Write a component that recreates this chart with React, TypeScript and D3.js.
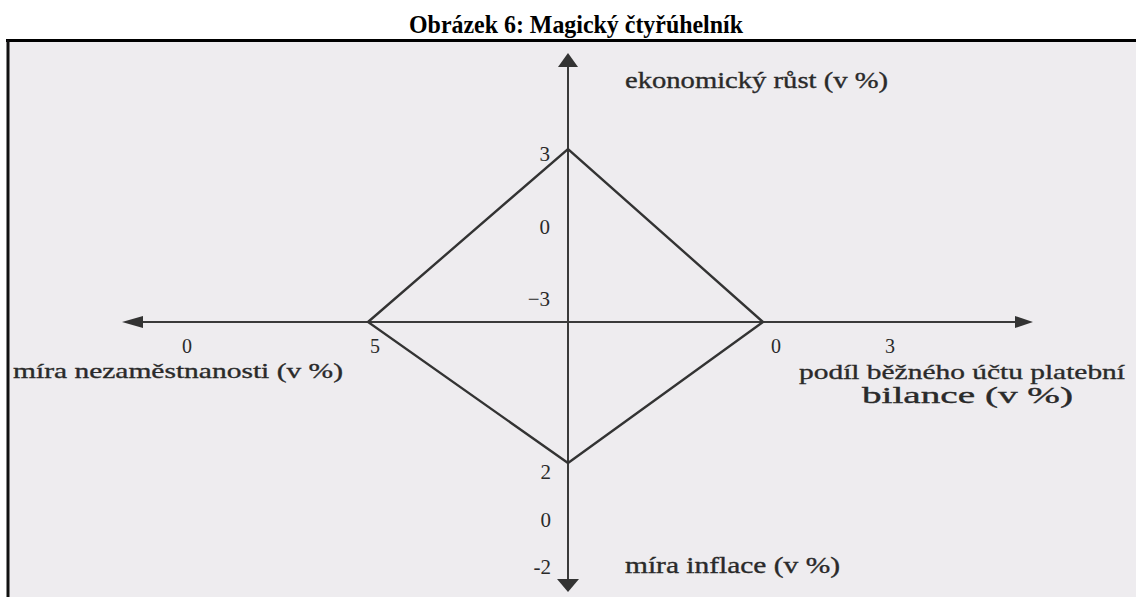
import React from "react";
import * as d3 from "d3";

// chart values
const growthTicks = [3, 0, -3];
const inflationTicks = [2, 0, -2];
const unemploymentTicks = [0, 5];
const balanceTicks = [0, 3];

// where the quadrilateral touches each axis
const growthValue = 3;
const unemploymentValue = 5;
const balanceValue = 0;
const inflationValue = 2;

const title = "Obrázek 6: Magický čtyřúhelník";
const growthTitle = "ekonomický růst (v %)";
const unemploymentTitle = "míra nezaměstnanosti (v %)";
const balanceTitle = ["podíl běžného účtu platební", "bilance (v %)"];
const inflationTitle = "míra inflace (v %)";

const W = 1136;
const H = 597;
const cx = 568;
const cy = 322;
const font = "'Liberation Serif', 'Times New Roman', serif";
const ink = "#2a2a2a";

const App = () => {
  // one scale per axis, each running outward from the centre
  const growthScale = d3.scaleLinear().domain([-3, 3]).range([294, 149]);
  const inflationScale = d3.scaleLinear().domain([-2, 2]).range([558, 463]);
  const unemploymentScale = d3.scaleLinear().domain([0, 5]).range([180, 368]);
  const balanceScale = d3.scaleLinear().domain([0, 3]).range([763, 877]);

  const quad: [number, number][] = [
    [unemploymentScale(unemploymentValue), cy],
    [cx, growthScale(growthValue)],
    [balanceScale(balanceValue), cy],
    [cx, inflationScale(inflationValue)],
  ];
  const quadPath = d3.line().curve(d3.curveLinearClosed)(quad) || "";

  const arrow = (pts: [number, number][]) =>
    d3.line().curve(d3.curveLinearClosed)(pts) || "";

  return (
    <svg
      width={W}
      height={H}
      style={{ position: "absolute", left: 0, top: 0, display: "block" }}
      fontFamily={font}
    >
      <rect x={0} y={0} width={W} height={H} fill="#ffffff" />
      <rect x={8} y={41} width={W - 8} height={H - 41} fill="#eeecef" />

      {/* frame */}
      <line x1={6} x2={W} y1={40.5} y2={40.5} stroke="#000" strokeWidth={3} />
      <line x1={8} x2={8} y1={40} y2={H} stroke="#111" strokeWidth={3} />

      {/* title */}
      <text
        x={409}
        y={33}
        fontSize={25}
        fontWeight="bold"
        fill="#000"
        textLength={334}
        lengthAdjust="spacingAndGlyphs"
      >
        {title}
      </text>

      {/* axes */}
      <line x1={cx} x2={cx} y1={62} y2={584} stroke="#3a3a3a" strokeWidth={2} />
      <line x1={136} x2={1022} y1={cy} y2={cy} stroke="#3a3a3a" strokeWidth={2} />
      <path d={arrow([[cx, 53], [cx - 10, 67], [cx + 10, 67]])} fill="#333" />
      <path d={arrow([[cx, 592], [cx - 11, 579], [cx + 11, 579]])} fill="#333" />
      <path d={arrow([[122, cy], [143, cy - 6], [143, cy + 6]])} fill="#333" />
      <path d={arrow([[1033, cy], [1015, cy - 6], [1015, cy + 6]])} fill="#333" />

      {/* quadrilateral */}
      <path d={quadPath} fill="none" stroke="#333" strokeWidth={2.4} strokeLinejoin="miter" />

      {/* vertical tick labels */}
      <g fontSize={21} fill={ink} textAnchor="end">
        {growthTicks.map((t) => (
          <text key={"g" + t} x={550} y={growthScale(t) + 12}>
            {t < 0 ? "−" + Math.abs(t) : t}
          </text>
        ))}
        {inflationTicks.map((t) => (
          <text key={"i" + t} x={551} y={inflationScale(t) + 16}>
            {t < 0 ? "-" + Math.abs(t) : t}
          </text>
        ))}
      </g>

      {/* horizontal tick labels */}
      <g fontSize={20} fill={ink} textAnchor="middle">
        {unemploymentTicks.map((t) => (
          <text key={"u" + t} x={unemploymentScale(t) + 7} y={353}>
            {t}
          </text>
        ))}
        {balanceTicks.map((t) => (
          <text key={"b" + t} x={balanceScale(t) + 13} y={353}>
            {t}
          </text>
        ))}
      </g>

      {/* axis titles */}
      <g fontSize={23} fill={ink} stroke={ink} strokeWidth={0.35}>
        <text x={625} y={88} textLength={263} lengthAdjust="spacingAndGlyphs">
          {growthTitle}
        </text>
        <text x={13} y={378} fontSize={22} textLength={330} lengthAdjust="spacingAndGlyphs">
          {unemploymentTitle}
        </text>
        <text x={799} y={379} fontSize={22} textLength={326} lengthAdjust="spacingAndGlyphs">
          {balanceTitle[0]}
        </text>
        <text x={862} y={403} textLength={211} lengthAdjust="spacingAndGlyphs">
          {balanceTitle[1]}
        </text>
        <text x={625} y={573} textLength={215} lengthAdjust="spacingAndGlyphs">
          {inflationTitle}
        </text>
      </g>
    </svg>
  );
};

export default App;
